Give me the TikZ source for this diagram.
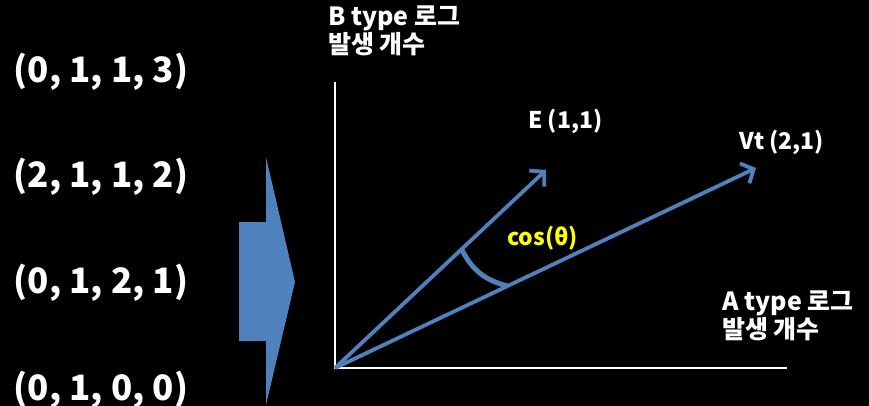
\documentclass[tikz,border=0pt]{standalone}
\usepackage{fontspec}
\setmainfont{Noto Sans CJK KR}
\usetikzlibrary{positioning,arrows.meta,calc}

\definecolor{vecblue}{HTML}{4F81BD}
\definecolor{labyellow}{HTML}{FFFF00}

\begin{document}
\begin{tikzpicture}[
    x=1pt, y=-1pt,
    txt/.style={text=white, inner sep=0pt, font=\bfseries\fontsize{23}{28}\selectfont, align=left},
    axlab/.style={txt, font=\bfseries\fontsize{25}{28}\selectfont},
    tuple/.style={text=white, inner sep=0pt, font=\bfseries\fontsize{35}{40}\selectfont},
    axis/.style={draw=white, line width=1.2pt},
    vec/.style={draw=vecblue, line width=3.8pt, -{Straight Barb[length=10pt, width=22pt, line width=3.8pt]}}
]
\fill[black] (0,0) rectangle (869,406);
\clip (0,0) rectangle (869,406);
% feature vectors on the left
\node[tuple] (t1) at (101,72) {(0, 1, 1, 3)};
\node[tuple] (t2) at (101,177) {(2, 1, 1, 2)};
\node[tuple] (t3) at (101,283) {(0, 1, 2, 1)};
\node[tuple] (t4) at (101,390) {(0, 1, 0, 0)};
% block arrow
\fill[vecblue] (239,222) -- (266,222) -- (266,157) -- (295,282) -- (266,405) -- (266,341) -- (239,341) -- cycle;
% axes
\coordinate (origin) at (335,368);
\coordinate (ytop) at (335,82);
\coordinate (xend) at (787,368);
\draw[axis] (ytop) -- (origin) -- (xend);
\node[axlab, anchor=north west] (ylab) at (328,6) {B type 로그\\발생 개수};
\node[axlab, anchor=north west] (xlab) at (722,291) {A type 로그\\발생 개수};
% vectors
\coordinate (etip) at (546,170);
\coordinate (vtip) at (756,168);
\draw[vec] (origin) -- (etip);
\draw[vec] (origin) -- (vtip);
\node[txt, anchor=north west] (elab) at (528,109) {E (1,1)};
\node[txt, anchor=north west] (vlab) at (739,130) {Vt (2,1)};
% angle between the vectors
\coordinate (aon) at ($(origin)!0.6!(etip)$);
\coordinate (aonv) at ($(origin)!0.41!(vtip)$);
\draw[draw=vecblue, line width=5pt] (aon) to[bend right=25] (aonv);
\node[txt, text=labyellow, anchor=north west] (cos) at (507,226) {cos(θ)};
\end{tikzpicture}
\end{document}
